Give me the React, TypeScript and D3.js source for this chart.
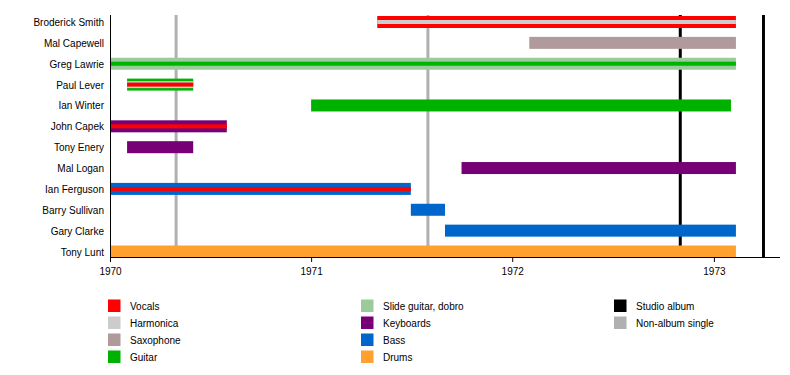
import React, { useRef, useEffect } from "react";
import * as d3 from "d3";

// band members, top to bottom
const members = [
  "Broderick Smith",
  "Mal Capewell",
  "Greg Lawrie",
  "Paul Lever",
  "Ian Winter",
  "John Capek",
  "Tony Enery",
  "Mal Logan",
  "Ian Ferguson",
  "Barry Sullivan",
  "Gary Clarke",
  "Tony Lunt",
];

const roleColors: Record<string, string> = {
  Vocals: "#ff0000",
  Harmonica: "#cccccc",
  Saxophone: "#b09a9b",
  Guitar: "#00b200",
  "Slide guitar, dobro": "#99cc99",
  Keyboards: "#770077",
  Bass: "#0066cc",
  Drums: "#ffa02f",
};

const END = "1973-02-10";

// [member, role, from, till, layer]  layer: 0 = full bar, 1 = middle, 2 = thin
const bars: [string, string, string, string, number][] = [
  ["Broderick Smith", "Vocals", "1971-05-01", END, 0],
  ["Broderick Smith", "Harmonica", "1971-05-01", END, 2],
  ["Mal Capewell", "Saxophone", "1972-02-01", END, 0],
  ["Greg Lawrie", "Slide guitar, dobro", "1970-01-01", END, 0],
  ["Greg Lawrie", "Guitar", "1970-01-01", END, 2],
  ["Paul Lever", "Guitar", "1970-02-01", "1970-06-01", 0],
  ["Paul Lever", "Harmonica", "1970-02-01", "1970-06-01", 1],
  ["Paul Lever", "Vocals", "1970-02-01", "1970-06-01", 2],
  ["Ian Winter", "Guitar", "1971-01-01", "1973-02-01", 0],
  ["John Capek", "Keyboards", "1970-01-01", "1970-08-01", 0],
  ["John Capek", "Vocals", "1970-01-01", "1970-08-01", 2],
  ["Tony Enery", "Keyboards", "1970-02-01", "1970-06-01", 0],
  ["Mal Logan", "Keyboards", "1971-10-01", END, 0],
  ["Ian Ferguson", "Bass", "1970-01-01", "1971-07-01", 0],
  ["Ian Ferguson", "Vocals", "1970-01-01", "1971-07-01", 2],
  ["Barry Sullivan", "Bass", "1971-07-01", "1971-09-01", 0],
  ["Gary Clarke", "Bass", "1971-09-01", END, 0],
  ["Tony Lunt", "Drums", "1970-01-01", END, 0],
];

const studioAlbums = ["1972-11-01", "1973-04-01"];
const singles = ["1970-05-01", "1971-08-01"];

const tickYears = ["1970", "1971", "1972", "1973"];

const legendColumns = [
  ["Vocals", "Harmonica", "Saxophone", "Guitar"],
  ["Slide guitar, dobro", "Keyboards", "Bass", "Drums"],
  ["Studio album", "Non-album single"],
];
const eventColors: Record<string, string> = {
  "Studio album": "#000000",
  "Non-album single": "#b0b0b0",
};

const App = () => {
  const svgRef = useRef<SVGSVGElement>(null);

  useEffect(() => {
    const svg = d3.select(svgRef.current);
    svg.selectAll("*").remove();

    const left = 110;
    const right = 780;
    const top = 15;
    const axisY = 257;
    const font = "'Liberation Sans', Arial, sans-serif";
    const parse = d3.utcParse("%Y-%m-%d");

    const x = d3
      .scaleUtc()
      .domain([parse("1970-01-01")!, parse("1973-05-01")!])
      .range([left, right]);
    const y = d3.scalePoint().domain(members).range([22, 251.5]);
    const heights = [12, 7, 4];

    // event lines behind the bars
    svg
      .append("g")
      .selectAll("line")
      .data([
        ...singles.map((d) => ({ d, c: eventColors["Non-album single"] })),
        ...studioAlbums.map((d) => ({ d, c: eventColors["Studio album"] })),
      ])
      .enter()
      .append("line")
      .attr("x1", (e) => x(parse(e.d)!))
      .attr("x2", (e) => x(parse(e.d)!))
      .attr("y1", top)
      .attr("y2", axisY)
      .attr("stroke", (e) => e.c)
      .attr("stroke-width", 3);

    // bars
    svg
      .append("g")
      .selectAll("rect")
      .data(bars)
      .enter()
      .append("rect")
      .attr("x", (b) => x(parse(b[2])!))
      .attr("width", (b) => x(parse(b[3])!) - x(parse(b[2])!))
      .attr("y", (b) => y(b[0])! - heights[b[4]] / 2)
      .attr("height", (b) => heights[b[4]])
      .attr("fill", (b) => roleColors[b[1]]);

    // member labels
    svg
      .append("g")
      .selectAll("text")
      .data(members)
      .enter()
      .append("text")
      .attr("x", 104)
      .attr("y", (m) => y(m)! + 0.5)
      .attr("dy", "0.35em")
      .attr("text-anchor", "end")
      .style("font", `10px ${font}`)
      .text((m) => m);

    // axes
    svg
      .append("line")
      .attr("x1", left + 0.5)
      .attr("x2", left + 0.5)
      .attr("y1", top)
      .attr("y2", axisY)
      .attr("stroke", "#000");

    const xAxis = d3
      .axisBottom(x)
      .tickValues(tickYears.map((t) => parse(`${t}-01-01`)!))
      .tickFormat(d3.utcFormat("%Y") as any)
      .tickSize(5)
      .tickSizeOuter(0);
    const g = svg.append("g").attr("transform", `translate(0,${axisY})`).call(xAxis);
    g.select(".domain").attr("d", `M${left},0.5H${right}`);
    g.selectAll("text").style("font", `10px ${font}`).attr("y", 11);

    // legend
    const colX = [108, 361, 614];
    legendColumns.forEach((col, ci) => {
      col.forEach((name, ri) => {
        const cy = 306 + ri * 17;
        svg
          .append("rect")
          .attr("x", colX[ci])
          .attr("y", cy - 6.5)
          .attr("width", 12.5)
          .attr("height", 12.5)
          .attr("fill", roleColors[name] ?? eventColors[name]);
        svg
          .append("text")
          .attr("x", colX[ci] + 22)
          .attr("y", cy + 0.5)
          .attr("dy", "0.35em")
          .style("font", `10px ${font}`)
          .text(name);
      });
    });
  }, []);

  return (
    <svg
      ref={svgRef}
      width={790}
      height={375}
      style={{ position: "absolute", left: 0, top: 0, background: "#fff" }}
    />
  );
};

export default App;
